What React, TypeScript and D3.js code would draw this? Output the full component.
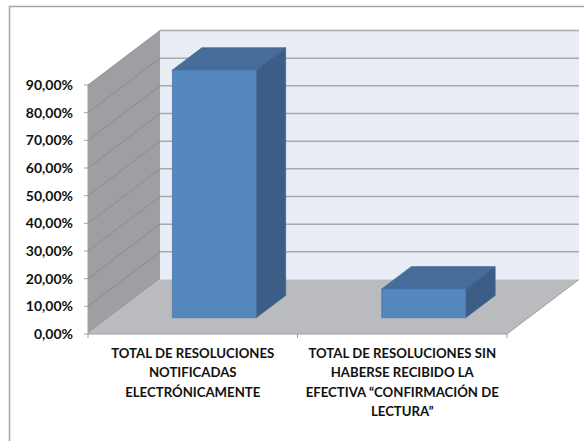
import React from "react";
import * as d3 from "d3";

const categories = ["A", "B"];
const categoryLines = [
  ["TOTAL DE RESOLUCIONES", "NOTIFICADAS", "ELECTRÓNICAMENTE"],
  ["TOTAL DE RESOLUCIONES SIN", "HABERSE RECIBIDO LA", "EFECTIVA “CONFIRMACIÓN DE", "LECTURA”"],
];
const values = [89.5, 10.4];
const ticks = [0, 10, 20, 30, 40, 50, 60, 70, 80, 90];
const tickLabels = ["0,00%", "10,00%", "20,00%", "30,00%", "40,00%", "50,00%", "60,00%", "70,00%", "80,00%", "90,00%"];

const y = d3.scaleLinear().domain([0, 90]).range([334, 85]);
const x = d3.scaleBand<string>().domain(categories).range([88, 507]);
const depthX = 72;
const depthY = -54.5;
const barWidth = x.bandwidth() * 0.4;
const near = 0.298;
const far = 0.708;

const pts = (p: [number, number][]) => p.map((q) => q.join(",")).join(" ");
const font = "Lato, 'Open Sans', sans-serif";

export default function App() {
  const x0 = x.range()[0];
  const x1 = x.range()[1];
  const y0 = y(0);
  const yT = y(90);
  return (
    <svg width={584} height={441} style={{ position: "fixed", left: 0, top: 0, background: "#fff" }}>
      <path d="M9.5,441V6.5H584" fill="none" stroke="#a3a3a3" strokeWidth={1.5} />
      {/* back wall */}
      <rect x={x0 + depthX} y={yT + depthY} width={x1 - x0} height={y0 - yT} fill="#e9eef6" />
      {/* left wall */}
      <polygon
        points={pts([[x0, y0], [x0, yT], [x0 + depthX, yT + depthY], [x0 + depthX, y0 + depthY]])}
        fill="#9d9fa2"
      />
      {/* floor */}
      <polygon
        points={pts([[x0, y0], [x1, y0], [x1 + depthX, y0 + depthY], [x0 + depthX, y0 + depthY]])}
        fill="#b9bbbe"
      />
      {ticks.map((t) => (
        <g key={t}>
          {t > 0 && (
            <line x1={x0 + depthX} x2={x1 + depthX} y1={y(t) + depthY} y2={y(t) + depthY} stroke="#a8aaad" strokeWidth={1.5} />
          )}
          {t > 0 && (
            <line x1={x0} x2={x0 + depthX} y1={y(t)} y2={y(t) + depthY} stroke="#85878a" strokeWidth={0.8} />
          )}
          <line x1={x0 - 4} x2={x0} y1={y(t)} y2={y(t)} stroke="#a0a0a0" strokeWidth={1} />
          <text
            x={73}
            y={y(t)}
            dy="0.36em"
            textAnchor="end"
            fontFamily={font}
            fontWeight={700}
            fontSize={14}
            fill="#111"
          >
            {tickLabels[t / 10]}
          </text>
        </g>
      ))}
      {/* axes */}
      <line x1={x0} x2={x0} y1={yT} y2={y0} stroke="#a0a0a0" strokeWidth={1} />
      <line x1={x0} x2={x1} y1={y0} y2={y0} stroke="#a0a0a0" strokeWidth={1.2} />
      <line x1={x1} x2={x1 + depthX} y1={y0} y2={y0 + depthY} stroke="#a0a0a0" strokeWidth={1} />
      {[...categories.map((c) => x(c) as number), x1].map((p) => (
        <line key={p} x1={p} x2={p} y1={y0} y2={y0 + 4} stroke="#a0a0a0" strokeWidth={1} />
      ))}
      {/* bars */}
      {categories.map((c, i) => {
        const cx = (x(c) as number) + x.bandwidth() / 2;
        const fx = cx + depthX * near - barWidth / 2;
        const fy = y0 + depthY * near;
        const top = fy - (y0 - y(values[i]));
        const dx = depthX * (far - near);
        const dy = depthY * (far - near);
        return (
          <g key={c}>
            <polygon
              points={pts([[fx, top], [fx + barWidth, top], [fx + barWidth + dx, top + dy], [fx + dx, top + dy]])}
              fill="#466d99"
              stroke="#416690"
              strokeWidth={0.8}
            />
            <polygon
              points={pts([[fx + barWidth, top], [fx + barWidth + dx, top + dy], [fx + barWidth + dx, fy + dy], [fx + barWidth, fy]])}
              fill="#3c5d85"
              stroke="#416690"
              strokeWidth={0.8}
            />
            <rect x={fx} y={top} width={barWidth} height={fy - top} fill="#5587bf" stroke="#4a7ab0" strokeWidth={0.8} />
          </g>
        );
      })}
      {/* category labels */}
      {categories.map((c, i) => (
        <text
          key={c}
          textAnchor="middle"
          fontFamily={font}
          fontWeight={700}
          fontSize={13.2}
          fill="#111"
        >
          {categoryLines[i].map((l, j) => (
            <tspan key={j} x={(x(c) as number) + x.bandwidth() / 2} y={353 + j * 19.4} dy="0.36em">
              {l}
            </tspan>
          ))}
        </text>
      ))}
    </svg>
  );
}
